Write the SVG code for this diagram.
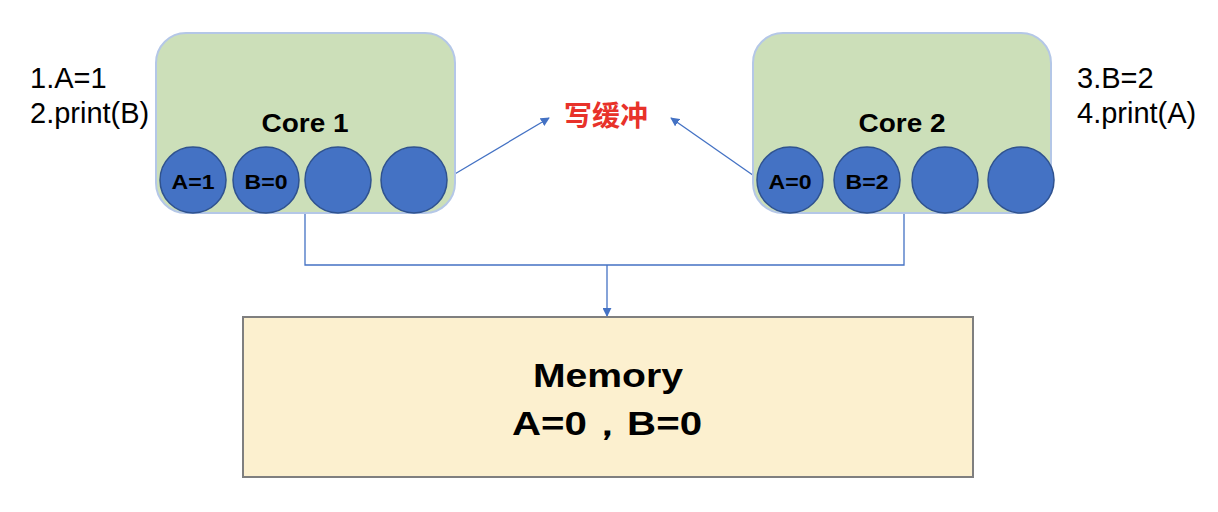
<svg xmlns="http://www.w3.org/2000/svg" width="1218" height="512" viewBox="0 0 1218 512">
<style>
.core{fill:#CCDFB9;stroke:#B4C7E7;stroke-width:2}
.reg{fill:#4472C4;stroke:#2F528F;stroke-width:1.5}
.lbl{font-family:"Liberation Sans",Arial,sans-serif;font-weight:bold;fill:#000;text-anchor:middle}
.side{font-family:"Liberation Sans",Arial,sans-serif;font-size:29px;fill:#000}
.conn{fill:none;stroke:#4472C4;stroke-width:1.3}
</style>
<defs>
<marker id="arr" viewBox="0 0 10 10" refX="9" refY="5" markerWidth="9" markerHeight="9" markerUnits="userSpaceOnUse" orient="auto">
<path d="M0,0 L10,5 L0,10 Z" fill="#4472C4"/>
</marker>
</defs>
<rect width="1218" height="512" fill="#fff"/>
<g id="connectors">
<path class="conn" d="M305,213 V265 H904 V213"/>
<path class="conn" d="M607,265 V316" marker-end="url(#arr)"/>
<path class="conn" d="M448,178 L549,118" marker-end="url(#arr)"/>
<path class="conn" d="M757,178 L671,118" marker-end="url(#arr)"/>
</g>
<g id="core1">
<rect class="core" x="156" y="33" width="299" height="180" rx="30"/>
<text class="lbl" x="305" y="132" font-size="25" textLength="87" lengthAdjust="spacingAndGlyphs">Core 1</text>
<circle class="reg" cx="193" cy="180" r="33"/>
<circle class="reg" cx="266" cy="180" r="33"/>
<circle class="reg" cx="338" cy="180" r="33"/>
<circle class="reg" cx="414" cy="180" r="33"/>
<text class="lbl" x="193" y="189" font-size="20" textLength="43" lengthAdjust="spacingAndGlyphs">A=1</text>
<text class="lbl" x="266" y="189" font-size="20" textLength="43" lengthAdjust="spacingAndGlyphs">B=0</text>
</g>
<g id="core2">
<rect class="core" x="753" y="33" width="298" height="180" rx="30"/>
<text class="lbl" x="902" y="132" font-size="25" textLength="87" lengthAdjust="spacingAndGlyphs">Core 2</text>
<circle class="reg" cx="790" cy="180" r="33"/>
<circle class="reg" cx="867" cy="180" r="33"/>
<circle class="reg" cx="945" cy="180" r="33"/>
<circle class="reg" cx="1021" cy="180" r="33"/>
<text class="lbl" x="790" y="189" font-size="20" textLength="43" lengthAdjust="spacingAndGlyphs">A=0</text>
<text class="lbl" x="867" y="189" font-size="20" textLength="43" lengthAdjust="spacingAndGlyphs">B=2</text>
</g>
<g id="buffer">
<text x="606" y="126" font-family="'Noto Sans CJK SC',sans-serif" font-weight="bold" font-size="28" fill="#E8322A" text-anchor="middle">写缓冲</text>
</g>
<g id="memory">
<rect x="243" y="317" width="730" height="160" fill="#FCF0CF" stroke="#7F7F7F" stroke-width="2"/>
<text class="lbl" x="608" y="387" font-size="34" textLength="150" lengthAdjust="spacingAndGlyphs">Memory</text>
<text class="lbl" x="607" y="435" font-family="'Liberation Sans','Noto Sans CJK SC',sans-serif" font-size="34" textLength="190" lengthAdjust="spacingAndGlyphs">A=0，B=0</text>
</g>
<g id="notes1">
<text class="side" x="30" y="88">1.A=1</text>
<text class="side" x="30" y="123">2.print(B)</text>
</g>
<g id="notes2">
<text class="side" x="1077" y="88">3.B=2</text>
<text class="side" x="1077" y="123">4.print(A)</text>
</g>
</svg>
